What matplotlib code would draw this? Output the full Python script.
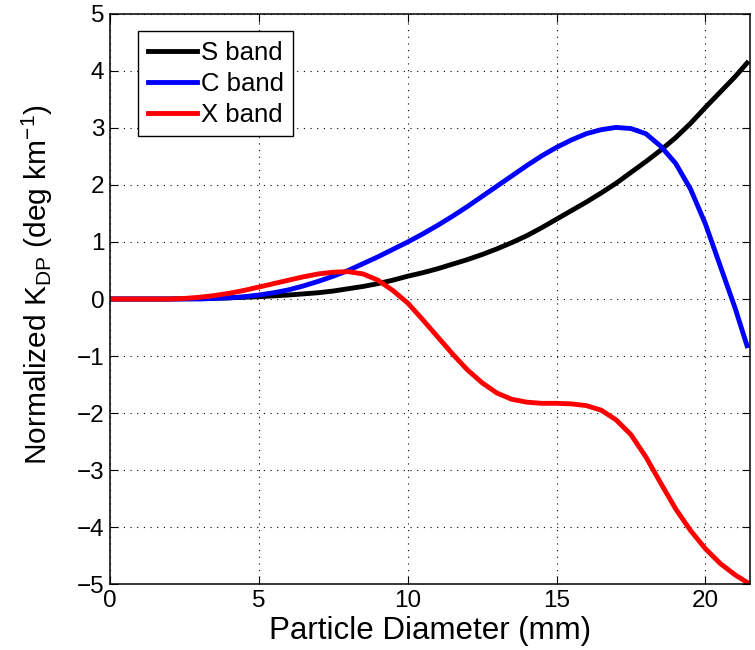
import numpy as np
import matplotlib
matplotlib.use("Agg")
import matplotlib.pyplot as plt

plt.rcParams['font.family'] = ['Liberation Sans', 'DejaVu Sans']
plt.rcParams['mathtext.fontset'] = 'custom'
plt.rcParams['mathtext.rm'] = 'Liberation Sans'
plt.rcParams['mathtext.it'] = 'Liberation Sans'

# particle diameter (mm)
diameter = [0.0, 0.5, 1.0, 1.5, 2.0, 2.5, 3.0, 3.5, 4.0, 4.5, 5.0, 5.5, 6.0, 6.5,
            7.0, 7.5, 8.0, 8.5, 9.0, 9.5, 10.0, 10.5, 11.0, 11.5, 12.0, 12.5,
            13.0, 13.5, 14.0, 14.5, 15.0, 15.5, 16.0, 16.5, 17.0, 17.5, 18.0,
            18.5, 19.0, 19.5, 20.0, 20.5, 21.0, 21.4]

# normalized KDP for each band
s_band = [0, 0, 0, 0, 0, 0.005, 0.01, 0.015, 0.02, 0.03, 0.04, 0.055, 0.07, 0.09,
          0.11, 0.14, 0.18, 0.22, 0.27, 0.33, 0.40, 0.46, 0.53, 0.61, 0.69, 0.78,
          0.88, 0.99, 1.11, 1.25, 1.40, 1.55, 1.70, 1.86, 2.03, 2.22, 2.41,
          2.61, 2.83, 3.08, 3.36, 3.63, 3.90, 4.14]
c_band = [0, 0, 0, 0, 0, 0, 0, 0.01, 0.02, 0.04, 0.07, 0.11, 0.16, 0.23,
          0.31, 0.40, 0.50, 0.62, 0.74, 0.87, 1.00, 1.14, 1.29, 1.45, 1.62, 1.80,
          1.98, 2.16, 2.34, 2.51, 2.66, 2.79, 2.90, 2.97, 3.01, 2.99, 2.90,
          2.68, 2.38, 1.93, 1.32, 0.58, -0.16, -0.82]
x_band = [0, 0, 0, 0, 0, 0.01, 0.03, 0.06, 0.10, 0.15, 0.21, 0.27, 0.33, 0.39,
          0.44, 0.47, 0.48, 0.44, 0.33, 0.15, -0.07, -0.36, -0.66, -0.96, -1.24, -1.47,
          -1.65, -1.76, -1.81, -1.83, -1.83, -1.84, -1.87, -1.95, -2.12, -2.38, -2.77,
          -3.23, -3.68, -4.06, -4.38, -4.64, -4.84, -4.97]

fig = plt.figure(figsize=(7.55, 6.5), dpi=100)
ax = fig.add_axes([0.1457, 0.1015, 0.8477, 0.877])

for vals, col, name in [(s_band, 'black', 'S band'), (c_band, 'blue', 'C band'),
                        (x_band, 'red', 'X band')]:
    ax.plot(diameter, vals, color=col, lw=3.5, label=name, solid_joinstyle='round')

ax.set_xlim(0, 21.5)
ax.set_ylim(-5, 5)
ax.set_xticks([0, 5, 10, 15, 20])
ax.set_yticks(range(-5, 6))
ax.grid(True, color='black', linestyle=(0, (1, 5)), lw=0.8)
ax.tick_params(direction='in', length=6, width=0.8, top=True, right=True,
               labelsize=17.5, pad=4)
for sp in ax.spines.values():
    sp.set_linewidth(1.1)

ax.set_xlabel('Particle Diameter (mm)', fontsize=22.5, labelpad=3)
ax.set_ylabel('Normalized K$_{\\mathrm{DP}}$ (deg km$^{-1}$)', fontsize=21.5)
ax.yaxis.set_label_coords(-0.086, 0.525)

leg = ax.legend(loc='upper left', bbox_to_anchor=(0.044, 0.970), borderaxespad=0,
                fontsize=18.5, fancybox=False, framealpha=1, edgecolor='black',
                handlelength=1.9, handletextpad=0.15, borderpad=0.38, labelspacing=0.27)
leg.get_frame().set_linewidth(1.0)

fig.savefig('out.png', dpi=100)
